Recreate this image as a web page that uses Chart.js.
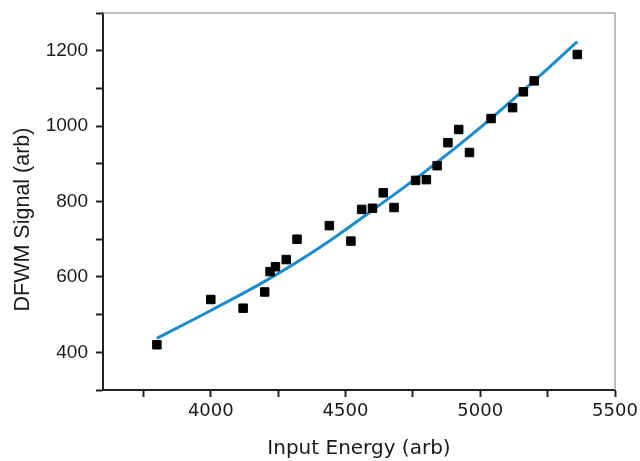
<!DOCTYPE html>
<html>
<head>
<meta charset="utf-8">
<script src="https://cdn.jsdelivr.net/npm/chart.js@4.4.1/dist/chart.umd.min.js"></script>
<style>
  html, body { margin: 0; padding: 0; background: #fff; }
  #wrap { width: 640px; height: 461px; }
</style>
</head>
<body>
<div id="wrap"><canvas id="dfwm-chart"></canvas></div>
<script>
// measured points
const energy = [3800, 4000, 4120, 4200, 4220, 4240, 4280, 4320, 4440, 4520, 4560, 4600, 4640,
                4680, 4760, 4800, 4840, 4880, 4920, 4960, 5040, 5120, 5160, 5200, 5360];
const signal = [420, 540, 517, 560, 614, 627, 646, 700, 736, 695, 779, 782, 823,
                784, 856, 858, 895, 956, 991, 930, 1020, 1049, 1091, 1120, 1190];

// fit curve
const fitEnergy = [3800, 4000, 4200, 4400, 4600, 4800, 5000, 5200, 5360];
const fitSignal = [437, 511, 588, 676, 777, 882, 996, 1120, 1224];

const xTickValues = [3750, 4000, 4250, 4500, 4750, 5000, 5250, 5500];
const xTickLabels = ['', '4000', '', '4500', '', '5000', '', '5500'];
const yTickValues = [300, 400, 500, 600, 700, 800, 900, 1000, 1100, 1200, 1300];
const yTickLabels = ['', '400', '', '600', '', '800', '', '1000', '', '1200', ''];
const yTitle = 'DFWM Signal (arb)';

// light grey frame on top and right, plus the y title (sits a bit below centre)
const framePlugin = {
    id: 'frame',
    afterDatasetsDraw(chart) {
        const {ctx, chartArea: a} = chart;
        ctx.save();
        ctx.strokeStyle = '#a8a8a8';
        ctx.lineWidth = 1.5;
        ctx.beginPath();
        ctx.moveTo(a.left, a.top);
        ctx.lineTo(a.right, a.top);
        ctx.lineTo(a.right, a.bottom);
        ctx.stroke();

        ctx.translate(23, (a.top + a.bottom) / 2 + 18);
        ctx.rotate(-Math.PI / 2);
        ctx.fillStyle = '#1a1a1a';
        ctx.font = '21.5px "Liberation Sans"';
        ctx.textAlign = 'center';
        ctx.textBaseline = 'middle';
        ctx.fillText(yTitle, 0, 0);
        ctx.restore();
    }
};

function init() {
    const ctx = document.getElementById('dfwm-chart').getContext('2d');
    window.dfwmChart = new Chart(ctx, {
        type: 'scatter',
        data: {
            datasets: [{
                label: 'Fit',
                type: 'line',
                data: fitEnergy.map((x, i) => ({x: x, y: fitSignal[i]})),
                borderColor: '#1c8dcc',
                borderWidth: 3,
                pointRadius: 0,
                tension: 0.4,
                fill: false,
                order: 2
            }, {
                label: 'Data',
                data: energy.map((x, i) => ({x: x, y: signal[i]})),
                pointStyle: 'rect',
                pointRadius: 6,
                backgroundColor: '#000',
                borderColor: '#000',
                borderWidth: 1,
                order: 1
            }]
        },
        options: {
            responsive: true,
            maintainAspectRatio: false,
            animation: false,
            layout: { padding: { left: 0, top: 13, right: 25, bottom: 0 } },
            plugins: {
                legend: { display: false },
                tooltip: { enabled: false }
            },
            scales: {
                x: {
                    type: 'linear',
                    min: 3600,
                    max: 5500,
                    afterBuildTicks: s => { s.ticks = xTickValues.map(v => ({value: v})); },
                    afterFit: s => { s.height = 71; s.paddingLeft = 0; s.paddingRight = 0; },
                    grid: { drawOnChartArea: false, tickLength: 7, tickWidth: 2, tickColor: '#222' },
                    border: { color: '#222', width: 2 },
                    ticks: {
                        padding: 4,
                        color: '#1a1a1a',
                        font: { family: 'DejaVu Sans', size: 18 },
                        maxRotation: 0,
                        autoSkip: false,
                        callback: (v, i) => xTickLabels[i]
                    },
                    title: {
                        display: true,
                        text: 'Input Energy (arb)',
                        color: '#1a1a1a',
                        font: { family: 'DejaVu Sans', size: 20 },
                        padding: { top: 0, bottom: 0 }
                    }
                },
                y: {
                    type: 'linear',
                    min: 300,
                    max: 1300,
                    afterBuildTicks: s => { s.ticks = yTickValues.map(v => ({value: v})); },
                    afterFit: s => { s.width = 103; s.paddingTop = 0; s.paddingBottom = 0; },
                    grid: { drawOnChartArea: false, tickLength: 7, tickWidth: 2, tickColor: '#222' },
                    border: { color: '#222', width: 2 },
                    ticks: {
                        padding: 8,
                        color: '#1a1a1a',
                        font: { family: 'Liberation Sans', size: 19 },
                        autoSkip: false,
                        callback: (v, i) => yTickLabels[i]
                    },
                    title: { display: false }
                }
            }
        },
        plugins: [framePlugin]
    });
}

document.addEventListener('DOMContentLoaded', init);
</script>
</body>
</html>
